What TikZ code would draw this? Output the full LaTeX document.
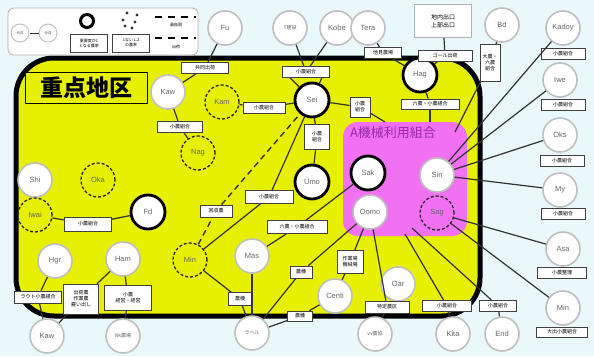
\documentclass[tikz,border=0pt]{standalone}
\usepackage{fontspec}
\setmainfont{Liberation Sans}
\newfontfamily\cjk{Noto Sans CJK JP}
\definecolor{bgc}{RGB}{234,248,250}
\definecolor{yel}{RGB}{230,240,0}
\definecolor{mag}{RGB}{242,112,242}
\definecolor{pur}{RGB}{150,40,170}
\begin{document}
\begin{tikzpicture}[x=1pt,y=-1pt,
 pn/.style={circle,fill=white,draw=gray!50,line width=1.6pt,minimum size=34pt,inner sep=0pt,font=\fontsize{7.5}{7.5}\selectfont,text=black!60},
 tk/.style={pn,draw=black,line width=2.8pt},
 dc/.style={circle,draw=black!85,densely dashed,line width=1.3pt,minimum size=34pt,inner sep=0pt,font=\fontsize{7.5}{7.5}\selectfont,text=black!60},
 lb/.style={rectangle,draw=black!75,fill=white,line width=0.7pt,inner sep=1pt,font=\cjk\fontsize{5}{6}\selectfont,align=center,minimum width=#1,minimum height=11pt},
 lb/.default=40pt,
 ln/.style={draw=black!80,line width=1.2pt},
]
\useasboundingbox (0,0) rectangle (594,356);
\fill[bgc] (0,0) rectangle (594,356);
% big yellow area
\draw[fill=yel,line width=5pt,rounded corners=38pt] (16,58) rectangle (480,316);
% magenta area
\draw[fill=mag,draw=none,rounded corners=15pt] (343,122) rectangle (467,236);
\node[font=\cjk\fontsize{13}{13}\selectfont,text=pur] (mt) at (393,133) {A機械利用組合};
% title
\node[draw=black,line width=1pt,fill=yel,minimum width=122pt,minimum height=31pt,inner sep=0pt,font=\cjk\bfseries\fontsize{23}{23}\selectfont] (title) at (86,88) {重点地区};

% legend
\draw[draw=gray!60,fill=white,rounded corners=6pt,line width=0.8pt] (8,8) rectangle (198,55);
\node[pn,minimum size=18pt,line width=1pt,font=\cjk\fontsize{3.5}{4}\selectfont] (lg1) at (20,33) {会員};
\node[pn,minimum size=18pt,line width=1pt,font=\cjk\fontsize{3.5}{4}\selectfont] (lg2) at (48,33) {会員};
\draw[ln,line width=0.8pt] (lg1) -- (lg2);
\node[circle,draw=black,line width=3pt,minimum size=13pt,inner sep=0pt] (lg3) at (87,21) {};
\node[lb,minimum width=37pt,minimum height=18pt,font=\cjk\fontsize{4}{5}\selectfont] (lg4) at (89,43) {重要度が1\\となる農家};
\foreach \p in {(127,13),(137,15),(123,20),(135,22),(125,26),(132,28)} \fill[black!80] \p circle (1.6pt);
\node[lb,minimum width=37pt,minimum height=18pt,font=\cjk\fontsize{4}{5}\selectfont] (lg5) at (131,43) {1ないし2\\の農家};
\draw[line width=1.6pt,dash pattern=on 7pt off 6pt] (155,17) -- (196,17);
\node[font=\cjk\fontsize{4}{5}\selectfont] (lg6) at (176,25) {最低限};
\draw[line width=1.6pt,dash pattern=on 7pt off 6pt] (155,38) -- (196,38);
\node[font=\cjk\fontsize{4}{5}\selectfont] (lg7) at (176,47) {出荷};

% outside nodes
\node[pn] (Fu) at (225,28) {Fu};
\node[pn,font=\cjk\fontsize{5}{6}\selectfont] (Tk) at (290,28) {T建設};
\node[pn] (Kobe) at (337,28) {Kobe};
\node[pn] (Tera) at (368,28) {Tera};
\node[pn] (Bd) at (502,25) {Bd};
\node[pn] (Kadoy) at (563,28) {Kadoy};
\node[pn] (Iwe) at (560,80) {Iwe};
\node[pn] (Oks) at (560,135) {Oks};
\node[pn] (My) at (560,190) {My};
\node[pn] (Asa) at (563,249) {Asa};
\node[pn] (MinR) at (563,308) {Min};
\node[pn] (End) at (502,334) {End};
\node[pn] (Kita) at (453,334) {Kita};
\node[pn,font=\cjk\fontsize{5}{6}\selectfont] (Nokyo) at (375,334) {vv農協};
\node[pn,font=\cjk\fontsize{5}{6}\selectfont] (Rah) at (252,333) {ラヘル};
\node[pn] (KawB) at (47,336) {Kaw};
\node[pn,font=\cjk\fontsize{5}{6}\selectfont] (Nk) at (123,336) {Nk農場};

% inside nodes
\node[pn] (KawD) at (168,92) {Kaw};
\node[dc] (Kam) at (222,102) {Kam};
\node[dc] (Nag) at (198,153) {Nag};
\node[tk] (Sei) at (312,100) {Sei};
\node[tk] (Hag) at (420,75) {Hag};
\node[tk] (Umo) at (312,182) {Umo};
\node[tk] (Sak) at (368,173) {Sak};
\node[pn] (Oomo) at (370,212) {Oomo};
\node[pn] (Sin) at (437,175) {Sin};
\node[dc] (Sag) at (437,213) {Sag};
\node[pn] (Shi) at (35,180) {Shi};
\node[dc] (Oka) at (98,180) {Oka};
\node[dc] (Iwai) at (35,215) {Iwai};
\node[tk] (Fd) at (148,212) {Fd};
\node[pn] (Hgr) at (55,261) {Hgr};
\node[pn] (Ham) at (123,259) {Ham};
\node[dc] (Min) at (190,260) {Min};
\node[pn] (Mas) at (252,256) {Mas};
\node[pn] (Centi) at (335,296) {Centi};
\node[pn] (Oar) at (398,284) {Oar};

% label boxes
\node[lb=47pt] (B1) at (205,68) {共同出荷};
\node[lb=47pt] (B2) at (306,72) {小農組合};
\node[lb=37pt] (B3) at (383,53) {他見農場};
\node[lb=57pt,minimum height=33pt,draw=gray!60,font=\cjk\fontsize{6}{8}\selectfont] (B4) at (443,21) {地内出口\\上部出口};
\node[lb=54pt] (B5) at (445,56) {ゴール出荷};
\node[lb=20pt,minimum height=37pt] (B6) at (490,63) {大農・\\六農\\組合};
\node[lb=44pt] (B7) at (563,54) {小農組合};
\node[lb=44pt] (B8) at (563,105) {小農組合};
\node[lb=44pt] (B9) at (562,161) {小農組合};
\node[lb=44pt] (B10) at (563,214) {小農組合};
\node[lb=49pt] (B11) at (562,273) {小農整理};
\node[lb=51pt,minimum height=10pt] (B12) at (562,332) {大出小農組合};
\node[lb=42pt] (B13) at (264,108) {小農組合};
\node[lb=45pt] (B14) at (180,127) {小農組合};
\node[lb=25pt,minimum height=25pt] (B15) at (317,137) {小農\\組合};
\node[lb=20pt,minimum height=20pt] (B16) at (360,107) {小農\\組合};
\node[lb=58pt,minimum height=10pt] (B17) at (430,104) {六農・小農組合};
\node[lb=47pt,minimum height=14pt] (B18) at (88,224) {小農組合};
\node[lb=32pt,minimum height=12pt] (B19) at (216,211) {回収農};
\node[lb=48pt,minimum height=13pt] (B20) at (269,197) {小農組合};
\node[lb=60pt,minimum height=13pt] (B21) at (297,227) {六農・小農組合};
\node[lb=24pt,minimum height=13pt] (B22) at (240,299) {農機};
\node[lb=22pt,minimum height=12pt] (B23) at (301,272) {農機};
\node[lb=25pt,minimum height=10pt] (B24) at (300,316) {農機};
\node[lb=26pt,minimum height=23pt] (B25) at (350,262) {作業場\\機械場};
\node[lb=44pt,minimum height=12pt] (B26) at (387,307) {特定農区};
\node[lb=49pt] (B27) at (447,306) {小農組合};
\node[lb=37pt] (B28) at (498,306) {小農組合};
\node[lb=47pt,minimum height=12pt] (B29) at (38,297) {ラウト小農組合};
\node[lb=35pt,minimum height=30pt] (B30) at (81,299) {出荷農\\作業農\\雇い出し};
\node[lb=47pt,minimum height=25pt] (B31) at (128,298) {小農\\経営・経営};

\coordinate (mTop1) at (430,122);
\coordinate (mTop2) at (385,122);
\coordinate (mTop3) at (455,132);
\coordinate (mBot1) at (405,234);
\coordinate (mBot2) at (412,228);

% connectors
\draw[ln] (Fu) -- (B1); \draw[ln] (B1) -- (KawD);
\draw[ln] (Tk) -- (B2); \draw[ln] (Kobe) -- (B2);
\draw[ln] (B2.south west) ++(8,0) coordinate (b2a) (b2a) -- (Sei);
\draw[ln] (B2.south east) ++(-8,0) coordinate (b2b) (b2b) -- (Sei);
\draw[ln] (Tera) -- (B3); \draw[ln] (B3) -- (Hag);
\draw[ln] (B4) -- (B5); \draw[ln] (B5) -- (Hag);
\draw[ln] (Hag) -- (B17); \draw[ln] (B17) -- (mTop1);
\draw[ln] (Sei) -- (B16); \draw[ln] (B16) -- (mTop2);
\draw[ln] (Sei) -- (B15); \draw[ln] (B15) -- (Umo);
\draw[ln] (Kam) -- (B13); \draw[ln] (B13) -- (Sei);
\draw[ln] (KawD) -- (B14); \draw[ln] (B14) -- (Nag);
\draw[ln] (Bd) -- (B6); \draw[ln] (B6) -- (mTop3);
\draw[ln] (Kadoy) -- (Sin);
\draw[ln] (Iwe) -- (Sin);
\draw[ln] (Oks) -- (Sin);
\draw[ln] (My) -- (Sin);
\draw[ln] (Sag) -- (Asa);
\draw[ln] (Sag) -- (MinR);
\draw[ln] (Iwai) -- (B18); \draw[ln] (B18) -- (Fd);
\draw[ln,line width=1.4pt,dash pattern=on 6pt off 4pt] (Min) -- (B19); \draw[ln,line width=1.4pt,dash pattern=on 6pt off 4pt] (B19) -- (Sei);
\draw[ln] (Min) -- (B20); \draw[ln] (B20) -- (Sei);
\draw[ln] (Min) -- (B22); \draw[ln] (B22) -- (Rah);
\draw[ln] (Mas) -- (Rah);
\draw[ln] (Rah) -- (B23); \draw[ln] (B23) -- (Oomo);
\draw[ln] (Mas) -- (B21); \draw[ln] (B21) -- (Sak);
\draw[ln] (Centi) -- (B25); \draw[ln] (B25) -- (Oomo);
\draw[ln] (Centi) -- (B24); \draw[ln] (B24) -- (Rah);
\draw[ln] (B26) -- (Oomo); \draw[ln] (B26) -- (Nokyo);
\draw[ln] (Kita) -- (B27); \draw[ln] (B27) -- (mBot1);
\draw[ln] (End) -- (B28); \draw[ln] (B28) -- (mBot2);
\draw[ln] (Hgr) -- (B29); \draw[ln] (B29) -- (KawB);
\draw[ln] (Ham) -- (B30); \draw[ln] (B30) -- (KawB);
\draw[ln] (Ham) -- (B31); \draw[ln] (B31) -- (Nk);
\end{tikzpicture}
\end{document}
